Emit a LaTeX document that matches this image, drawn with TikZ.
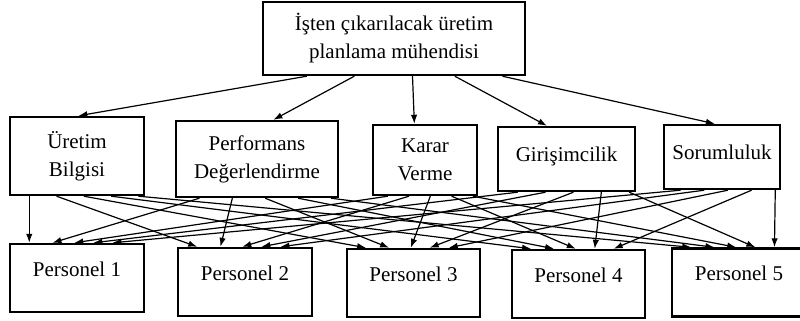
\documentclass[tikz,border=0pt]{standalone}
\usepackage{fontspec}
\setmainfont{Liberation Serif}
\usetikzlibrary{arrows.meta,calc}

\begin{document}
\begin{tikzpicture}[x=0.5pt, y=-0.5pt]
  \tikzset{box/.style = {draw, line width=1.2pt, align=center,
                         font=\fontsize{10.5}{14}\selectfont, inner sep=2pt},
           person/.style = {box, minimum width=67pt, minimum height=34pt,
                            text depth=9pt},
           link/.style = {-{Latex[length=4.5pt,width=3.2pt]}, line width=0.6pt}}
\useasboundingbox (0,0) rectangle (800,321);

% top
\node[box, minimum width=131pt, minimum height=36.5pt] (top) at (394,38.5)
  {İşten çıkarılacak üretim\\planlama mühendisi};

% criteria
\node[box, minimum width=67pt, minimum height=39pt] (u) at (77,156) {Üretim\\Bilgisi};
\node[box, minimum width=81pt, minimum height=38pt] (perf) at (257,159) {Performans\\Değerlendirme};
\node[box, minimum width=52pt, minimum height=35pt] (karar) at (425,160) {Karar\\Verme};
\node[box, minimum width=68.5pt, minimum height=32pt, text depth=5pt] (gir) at (566.5,159) {Girişimcilik};
\node[box, minimum width=58pt, minimum height=32pt, text depth=5pt] (sor) at (722,157) {Sorumluluk};

% personnel
\node[person] (p1) at (77,278) {Personel 1};
\node[person] (p2) at (245,282) {Personel 2};
\node[person, minimum width=66.5pt] (p3) at (413.5,283) {Personel 3};
\node[person, minimum width=66.5pt] (p4) at (578.5,284) {Personel 4};
\node[person] (p5) at (739,282.5) {Personel 5};

\foreach \t/\a/\b in {u/0.17/0.51, perf/0.35/0.6, karar/0.57/0.4, gir/0.73/0.36, sor/0.91/0.44}
  \draw[link] ($(top.south west)!\a!(top.south east)$) -- ($(\t.north west)!\b!(\t.north east)$);

\foreach \s/\a in {u/0.15, perf/0.32, karar/0.48, gir/0.62, sor/0.76}
  \foreach \t/\b in {p1/0.15, p2/0.35, p3/0.55, p4/0.75, p5/0.95}
    \draw[link] ($(\s.south west)!\b!(\s.south east)$) -- ($(\t.north west)!\a!(\t.north east)$);

\end{tikzpicture}
\end{document}
